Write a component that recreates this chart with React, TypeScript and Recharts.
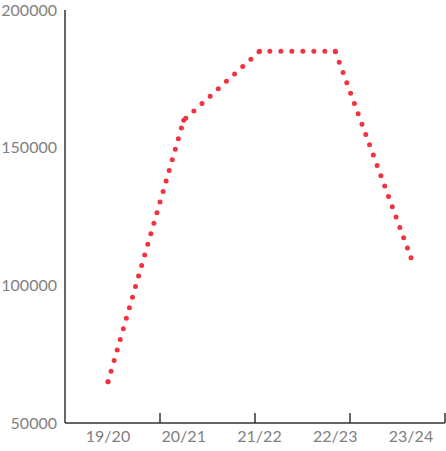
import React from 'react';
import {Line, LineChart, XAxis, YAxis} from 'recharts';

const seasons = ['19/20', '20/21', '21/22', '22/23', '23/24'];
const totals = [65000, 160000, 185000, 185000, 110000];
const yTicks = [50000, 100000, 150000, 200000];
const bandMarks = [1, 2, 3, 4];

const RED = '#f2323f';
const AXIS = '#333';
const TEXT = '#808080';

const chartData = seasons.map((season, i) => ({season, idx: i, total: totals[i]}));

const tickStyle = {fill: TEXT, fontSize: 16, fontFamily: 'Lato'};

const Empty = () => <g/>;

const App = () => {
  return (
    <div style={{position: 'absolute', left: 0, top: 0, background: '#fff'}}>
      <LineChart
        width={446}
        height={451}
        data={chartData}
        margin={{top: 10, right: 1, bottom: 0, left: 0}}
      >
        <XAxis
          dataKey="season"
          height={28}
          padding={{left: 43, right: 34}}
          tickLine={false}
          axisLine={{stroke: AXIS, strokeWidth: 1.5}}
          tick={tickStyle}
          interval={0}
        />
        <XAxis
          xAxisId="marks"
          type="number"
          dataKey="idx"
          domain={[0, 4]}
          ticks={bandMarks}
          mirror
          tickSize={10}
          axisLine={false}
          tickLine={{stroke: AXIS, strokeWidth: 1.5}}
          tick={Empty}
        />
        <YAxis
          width={65}
          domain={[50000, 200000]}
          ticks={yTicks}
          tickLine={false}
          axisLine={{stroke: AXIS, strokeWidth: 1.5}}
          tick={tickStyle}
          interval={0}
        />
        <YAxis
          yAxisId="marks"
          domain={[50000, 200000]}
          ticks={yTicks}
          mirror
          tickSize={8}
          axisLine={false}
          tickLine={{stroke: AXIS, strokeWidth: 1.5}}
          tick={Empty}
        />
        <Line
          type="linear"
          dataKey="total"
          stroke={RED}
          strokeWidth={5}
          strokeDasharray="0 11"
          strokeLinecap="round"
          dot={{r: 2.5, fill: RED, stroke: 'none'}}
          activeDot={false}
          isAnimationActive={false}
        />
      </LineChart>
    </div>
  );
};

export default App;
